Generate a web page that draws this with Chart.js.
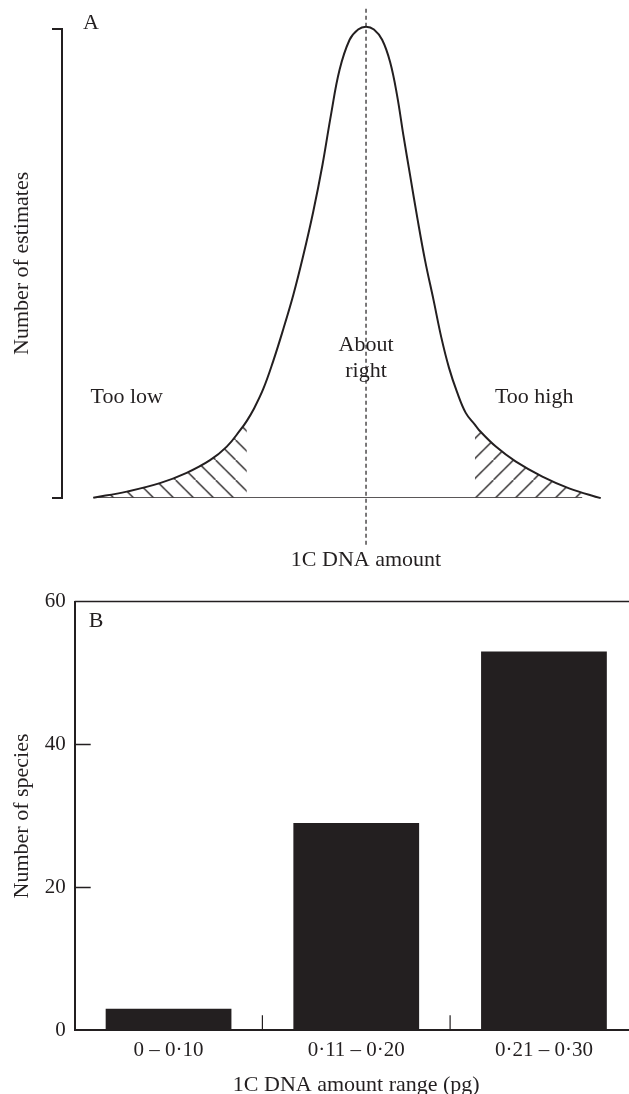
<!DOCTYPE html>
<html>
<head>
<meta charset="utf-8">
<script src="https://cdn.jsdelivr.net/npm/chart.js@4/dist/chart.umd.min.js"></script>
<style>
  html, body { margin: 0; padding: 0; background: #fff; overflow: hidden; }
  #wrap { position: relative; width: 629px; height: 1094px; overflow: hidden; }
  canvas { display: block; }
</style>
</head>
<body>
<div id="wrap">
  <canvas id="chartA" width="629" height="580"></canvas>
  <canvas id="chartB" width="645" height="530"></canvas>
</div>
<script>
// Panel A: schematic distribution of estimates (arbitrary units, peak at 0)
const curveX = [-89.7, -78.7, -67.8, -59.0, -51.3, -45.8, -41.4, -39.2, -37.1, -33.8,
  -30.5, -27.2, -23.9, -20.7, -17.4, -14.3, -11.5, -8.7, -5.4, -2.6,
  0, 2.6, 5.3, 7.9, 10.2, 12.3, 14.6, 16.9, 19.4, 22.2,
  24.8, 27.3, 29.8, 32.8, 35.8, 37.2, 42.7, 49.3, 58.0, 66.8, 77.2];
const curveY = [0, 1.3, 3.1, 5.3, 8.0, 10.9, 14.4, 16.4, 18.7, 23.2,
  29.2, 36.0, 43.3, 51.5, 60.9, 71.1, 81.8, 91.3, 97.7, 99.9,
  100.5, 99.9, 97.7, 93.0, 85.9, 77.3, 68.4, 59.6, 50.7, 42.2,
  34.1, 27.7, 22.8, 18.1, 15.6, 14.4, 10.9, 7.7, 4.5, 2.0, -0.1];
const lowTailEnd = 8;     // points of the "too low" tail (hatched)
const highTailStart = 34; // first point of the "too high" tail (hatched)
const baseX = [-89.7, 71.1];
const modeX = [0, 0];
const modeY = [104.3, -10.1];

// Panel B: number of species per 1C DNA range
const rangeLabels = ['0 – 0·10', '0·11 – 0·20', '0·21 – 0·30'];
const speciesCounts = [3, 29, 53];

const INK = '#231f20';
const SERIF = "'Liberation Serif', 'Times New Roman', serif";
Chart.defaults.font.family = SERIF;
Chart.defaults.font.size = 21;
Chart.defaults.color = INK;

function toPoints(xs, ys) {
  return xs.map((x, i) => ({ x, y: ys[i] }));
}

function hatch(dir, shift) {
  const c = document.createElement('canvas');
  c.width = 20; c.height = 20;
  const g = c.getContext('2d');
  g.strokeStyle = INK;
  g.lineWidth = 1.3;
  g.beginPath();
  if (dir === 'back') { g.moveTo(-2, -2); g.lineTo(22, 22); }
  else { g.moveTo(-2, 22); g.lineTo(22, -2); }
  g.stroke();
  const p = document.getElementById('chartA').getContext('2d').createPattern(c, 'repeat');
  p.setTransform(new DOMMatrix().translate(shift, 0));
  return p;
}

const notesPlugin = {
  id: 'notes',
  afterDatasetsDraw(chart, args, opts) {
    const { ctx, scales } = chart;
    ctx.save();
    ctx.fillStyle = INK;
    ctx.font = '22px ' + SERIF;
    ctx.textAlign = 'center';
    ctx.textBaseline = 'middle';
    (opts.items || []).forEach(n => {
      ctx.fillText(n.text, scales.x.getPixelForValue(n.x), scales.y.getPixelForValue(n.y));
    });
    ctx.restore();
  }
};

const pts = toPoints(curveX, curveY);

new Chart(document.getElementById('chartA'), {
  type: 'line',
  data: {
    datasets: [
      {
        data: pts,
        borderColor: INK,
        borderWidth: 2,
        tension: 0.4,
        pointRadius: 0,
        fill: false,
        clip: false
      },
      {
        data: toPoints(baseX, [0, 0]),
        borderColor: INK,
        borderWidth: 1.4,
        pointRadius: 0,
        fill: false
      },
      {
        data: toPoints(modeX, modeY),
        borderColor: INK,
        borderWidth: 1.2,
        borderDash: [4, 3],
        pointRadius: 0,
        fill: false,
        clip: false
      },
      {
        data: pts.slice(0, lowTailEnd),
        borderWidth: 0,
        borderColor: 'rgba(0,0,0,0)',
        tension: 0.4,
        pointRadius: 0,
        fill: 'origin',
        backgroundColor: hatch('back', 15.6)
      },
      {
        data: pts.slice(highTailStart),
        borderWidth: 0,
        borderColor: 'rgba(0,0,0,0)',
        tension: 0.4,
        pointRadius: 0,
        fill: 'origin',
        backgroundColor: hatch('fwd', 13.4)
      }
    ]
  },
  options: {
    responsive: false,
    animation: false,
    devicePixelRatio: 1,
    layout: { padding: { top: 29, bottom: 82.3, left: 0, right: 0 } },
    plugins: {
      legend: { display: false },
      tooltip: { enabled: false },
      notes: {
        items: [
          { text: 'A', x: -90.5, y: 101.3 },
          { text: 'Too low', x: -78.7, y: 21.5 },
          { text: 'Too high', x: 55.3, y: 21.5 },
          { text: 'About', x: 0, y: 32.6 },
          { text: 'right', x: 0, y: 26.9 },
          { text: '1C DNA amount', x: 0, y: -13.3 }
        ]
      }
    },
    scales: {
      x: { type: 'linear', min: -100, max: 86.5, display: false },
      y: {
        min: 0,
        max: 100,
        ticks: { stepSize: 100, display: false },
        grid: { drawOnChartArea: false, drawTicks: true, tickLength: 10, color: INK, lineWidth: 2 },
        border: { display: true, color: INK, width: 2 },
        title: { display: true, text: 'Number of estimates', font: { size: 22 }, padding: { top: 9, bottom: 0 } },
        afterFit(s) { s.width = 62; }
      }
    }
  },
  plugins: [notesPlugin]
});

const innerTicksPlugin = {
  id: 'innerTicks',
  afterDatasetsDraw(chart) {
    const { ctx, chartArea: a, scales } = chart;
    ctx.save();
    ctx.strokeStyle = INK;
    ctx.lineWidth = 1.5;
    ctx.beginPath();
    // frame top and right
    ctx.moveTo(a.left, a.top); ctx.lineTo(a.right, a.top); ctx.lineTo(a.right, a.bottom);
    scales.y.ticks.forEach(t => {
      const y = scales.y.getPixelForValue(t.value);
      ctx.moveTo(a.left, y); ctx.lineTo(a.left + 16, y);
    });
    ctx.stroke();
    ctx.lineWidth = 1.2;
    ctx.beginPath();
    for (let i = 0; i < rangeLabels.length; i++) {
      const x = (scales.x.getPixelForValue(i) + scales.x.getPixelForValue(i + 1)) / 2;
      ctx.moveTo(x, a.bottom); ctx.lineTo(x, a.bottom - 15);
    }
    ctx.stroke();
    ctx.restore();
  }
};

new Chart(document.getElementById('chartB'), {
  type: 'bar',
  data: {
    labels: rangeLabels,
    datasets: [{
      data: speciesCounts,
      backgroundColor: INK,
      borderWidth: 0,
      categoryPercentage: 1,
      barPercentage: 0.67
    }]
  },
  options: {
    responsive: false,
    animation: false,
    devicePixelRatio: 1,
    layout: { padding: { top: 16.7, right: 7.2, left: 0, bottom: 0 } },
    plugins: {
      legend: { display: false },
      tooltip: { enabled: false },
      notes: { items: [{ text: 'B', x: -0.386, y: 57.2 }] }
    },
    scales: {
      x: {
        grid: { display: false, drawTicks: false },
        border: { display: true, color: INK, width: 2 },
        ticks: { padding: 8, font: { size: 21 } },
        title: { display: true, text: '1C DNA amount range (pg)', font: { size: 22 }, padding: { top: 0, bottom: 11.8 } },
        afterFit(s) { s.height = 79.7; }
      },
      y: {
        min: 0,
        max: 60,
        ticks: { stepSize: 20, padding: 9, font: { size: 21 } },
        grid: { display: false, drawTicks: false },
        border: { display: true, color: INK, width: 2 },
        title: { display: true, text: 'Number of species', font: { size: 22 }, padding: { top: 9, bottom: 0 } },
        afterFit(s) { s.width = 74.7; }
      }
    }
  },
  plugins: [notesPlugin, innerTicksPlugin]
});
</script>
</body>
</html>
